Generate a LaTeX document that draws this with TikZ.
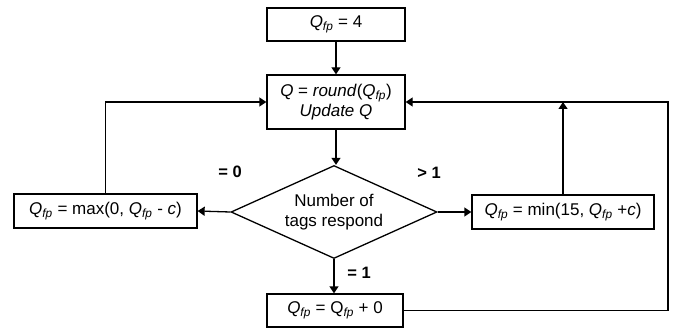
\documentclass[tikz,border=0pt]{standalone}
\usepackage{fontspec}
\setmainfont{Liberation Sans}
\usetikzlibrary{shapes.geometric,arrows.meta}
\newcommand\Qfp{\textit{Q}\textsubscript{\textit{fp}}}
\newcommand\Qfpu{Q\textsubscript{\textit{fp}}}
\begin{document}
\begin{tikzpicture}[x=1pt,y=-1pt,
  font=\fontsize{17}{20}\selectfont,
  line width=1.3pt,
  box/.style={draw, rectangle, inner sep=0pt, align=center},
  decision/.style={draw, diamond, aspect=2.2, inner sep=0pt, minimum width=206pt, minimum height=93pt, align=center},
  lbl/.style={font=\fontsize{16.5}{19}\selectfont\bfseries},
  arr/.style={-{Triangle[length=7pt,width=9pt]}}]
\useasboundingbox (0,0) rectangle (682,331);
\node[box, minimum width=138pt, minimum height=33pt] (init) at (336,24.5) {\Qfp{} = 4};
\node[box, minimum width=138pt, minimum height=54pt, font=\fontsize{17}{19.5}\selectfont] (upd) at (336,102) {\textit{Q} = \textit{round}(\Qfp)\\ \textit{Update Q}};
\node[decision] (dec) at (334,212) {Number of\\tags respond};
\node[box, minimum width=183pt, minimum height=34pt] (dec0) at (105.5,211) {\Qfp{} = max(0, \Qfp{} - \textit{c})};
\node[box, minimum width=182pt, minimum height=34pt] (inc) at (563,212) {\Qfp{} = min(15, \Qfp{} +\textit{c})};
\node[box, minimum width=136pt, minimum height=33pt] (same) at (335,310.5) {\Qfp{} = \Qfpu{} + 0};
\node[lbl] (l0) at (230,172) {= 0};
\node[lbl] (l2) at (429,173) {> 1};
\node[lbl] (l1) at (359,273) {= 1};
\coordinate (rc) at (668,102);
\draw[arr] (init) -- (upd);
\draw[arr] (upd.south) -- (upd.south |- dec.north);
\draw[arr] (dec.west) -- (dec0.east);
\draw[arr] (dec.east) -- (inc.west);
\draw[arr] (dec.south) -- (dec.south |- same.north);
\draw[arr] (dec0.north) |- (upd.west);
\draw[arr] (inc.north) -- (inc.north |- upd.east);
\draw[arr] (same.east) -| (rc) -- (upd.east);
\end{tikzpicture}
\end{document}
